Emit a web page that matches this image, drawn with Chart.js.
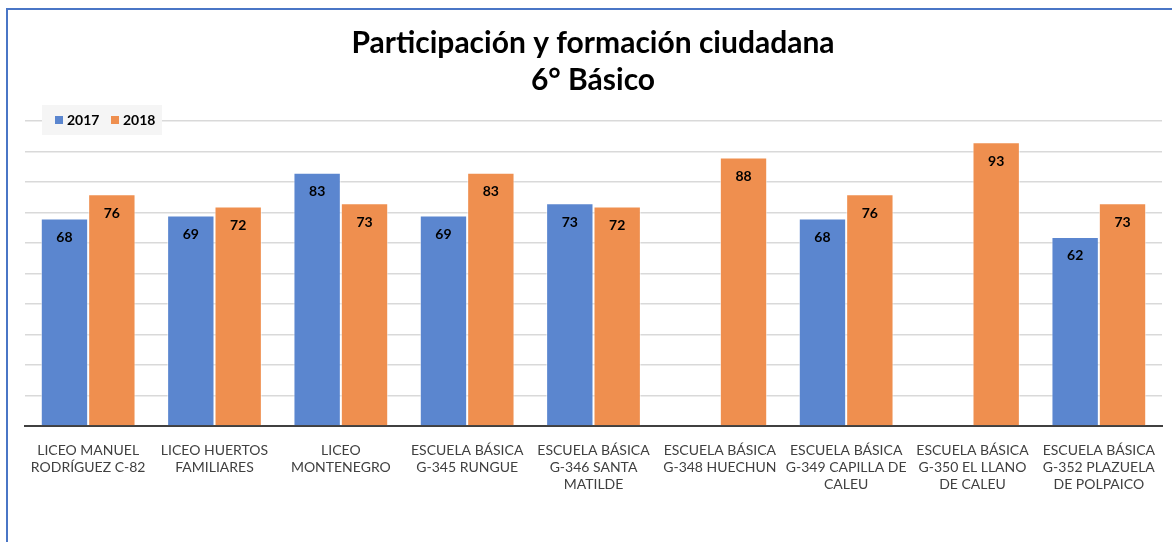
<!DOCTYPE html>
<html>
<head>
<meta charset="utf-8">
<script src="https://cdn.jsdelivr.net/npm/chart.js@4/dist/chart.umd.min.js"></script>
<style>
  body { margin: 0; background: #fff; }
  #wrap { position: relative; width: 1172px; height: 542px; overflow: hidden; }
  #frame { position: absolute; left: 6px; top: 8px; width: 1300px; height: 700px;
           border-left: 2px solid #4a76c6; border-top: 2px solid #4a76c6; }
  canvas { position: absolute; left: 0; top: 0; }
</style>
</head>
<body>
<div id="wrap">
  <div id="frame"></div>
  <canvas id="myChart" width="1172" height="542"></canvas>
</div>
<script>
// schools (wrapped the way the axis shows them)
const schoolLabels = [
  ['LICEO MANUEL', 'RODRÍGUEZ C-82'],
  ['LICEO HUERTOS', 'FAMILIARES'],
  ['LICEO', 'MONTENEGRO'],
  ['ESCUELA BÁSICA', 'G-345 RUNGUE'],
  ['ESCUELA BÁSICA', 'G-346 SANTA', 'MATILDE'],
  ['ESCUELA BÁSICA', 'G-348 HUECHUN'],
  ['ESCUELA BÁSICA', 'G-349 CAPILLA DE', 'CALEU'],
  ['ESCUELA BÁSICA', 'G-350 EL LLANO', 'DE CALEU'],
  ['ESCUELA BÁSICA', 'G-352 PLAZUELA', 'DE POLPAICO']
];

const scores2017 = [68, 69, 83, 69, 73, null, 68, null, 62];
const scores2018 = [76, 72, 73, 83, 72, 88, 76, 93, 73];

const titleLines = ['Participación y formación ciudadana', '6° Básico'];

const FONT = 'Lato, "Open Sans", sans-serif';

//title drawn by hand so both lines sit where the original has them
const titlePlugin = {
  id: 'titleLines',
  afterDraw(chart) {
    const ctx = chart.ctx;
    ctx.save();
    ctx.fillStyle = '#000';
    ctx.font = 'bold 30px ' + FONT;
    ctx.textAlign = 'center';
    ctx.textBaseline = 'middle';
    ctx.fillText(titleLines[0], 593, 43);
    ctx.fillText(titleLines[1], 593, 80);
    ctx.restore();
  }
}

//legend box sitting on top of the upper gridline
const legendPlugin = {
  id: 'boxLegend',
  afterDraw(chart) {
    const ctx = chart.ctx;
    ctx.save();
    ctx.fillStyle = '#f5f5f5';
    ctx.fillRect(42, 105, 120, 30);
    ctx.font = 'bold 14px ' + FONT;
    ctx.textBaseline = 'middle';
    let x = 55;
    chart.data.datasets.forEach((ds) => {
      ctx.fillStyle = ds.backgroundColor;
      ctx.fillRect(x, 116, 8, 8);
      ctx.fillStyle = '#000';
      ctx.fillText(ds.label, x + 12, 120);
      x += 56;
    });
    ctx.restore();
  }
}

//value labels inside the top of each bar
const valuePlugin = {
  id: 'barValues',
  afterDatasetsDraw(chart) {
    const ctx = chart.ctx;
    ctx.save();
    ctx.font = 'bold 14px ' + FONT;
    ctx.fillStyle = '#000';
    ctx.textAlign = 'center';
    ctx.textBaseline = 'middle';
    chart.data.datasets.forEach((ds, i) => {
      chart.getDatasetMeta(i).data.forEach((bar, j) => {
        const v = ds.data[j];
        if (v === null) return;
        ctx.fillText(v, bar.x, bar.y + 19);
      });
    });
    ctx.restore();
  }
}

const data = {
  labels: schoolLabels,
  datasets: [{
    label: '2017',
    data: scores2017,
    backgroundColor: '#5b86cf',
    borderColor: 'rgba(255,255,255,0.6)',
    borderWidth: 1,
    categoryPercentage: 0.75,
    barPercentage: 1.0
  }, {
    label: '2018',
    data: scores2018,
    backgroundColor: '#ef8f4f',
    borderColor: 'rgba(255,255,255,0.6)',
    borderWidth: 1,
    categoryPercentage: 0.75,
    barPercentage: 1.0
  }]
};

const config = {
  type: 'bar',
  data: data,
  options: {
    responsive: false,
    animation: false,
    layout: { padding: { top: 121, left: 25, right: 10, bottom: 0 } },
    plugins: {
      legend: { display: false },
      title: { display: false },
      tooltip: { enabled: false }
    },
    scales: {
      x: {
        grid: { display: false },
        border: { color: '#404040', width: 2 },
        ticks: {
          color: '#404040',
          font: { family: FONT, size: 14 },
          padding: 8,
          maxRotation: 0,
          autoSkip: false
        },
        afterFit: (axis) => { axis.height = 116; }
      },
      y: {
        min: 0,
        max: 100,
        ticks: { display: false, stepSize: 10 },
        grid: { color: '#d9d9d9', lineWidth: 1.5, drawTicks: false },
        border: { display: false },
        afterFit: (axis) => { axis.width = 0; }
      }
    }
  },
  plugins: [titlePlugin, legendPlugin, valuePlugin]
};

const myChart = new Chart(document.getElementById('myChart'), config);
</script>
</body>
</html>
